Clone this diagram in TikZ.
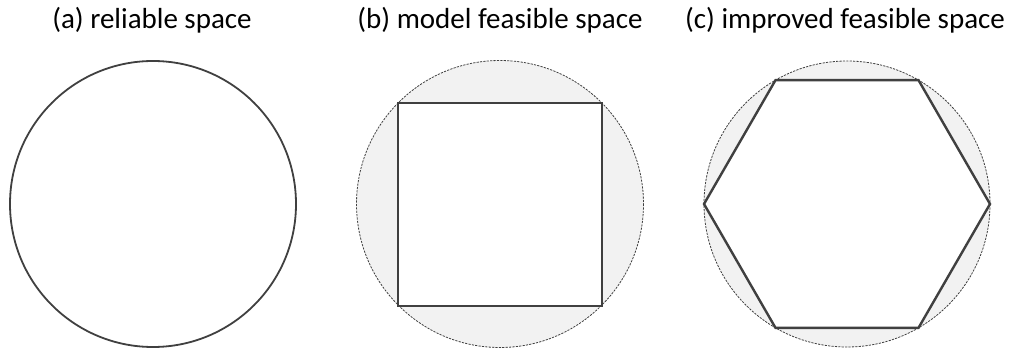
\documentclass[tikz,border=0pt]{standalone}
\usepackage{fontspec}
\setmainfont{Carlito}
\usepackage{tikz}
\usetikzlibrary{positioning}
\definecolor{cline}{HTML}{404040}
\definecolor{cshade}{HTML}{F2F2F2}

\begin{document}
\begin{tikzpicture}[x=1pt,y=-1pt,
  font=\fontsize{29}{32}\selectfont,
  title/.style={anchor=base},
  outer/.style={draw=cline,line width=0.8pt,dash pattern=on 2.2pt off 1.2pt,fill=cshade},
  inner/.style={draw=cline,line width=2.4pt,fill=white,line join=miter},
  plain/.style={draw=cline,line width=1.8pt}]
  \useasboundingbox (0,0) rectangle (1011,352);
  \coordinate (ca) at (153,204);
  \coordinate (cb) at (500,204);
  \coordinate (cc) at (847,204);
  % titles
  \node[title] (ta) at (152,29) {(a) reliable space};
  \node[title] (tb) at (500,29) {(b) model feasible space};
  \node[title] (tc) at (845,29) {(c) improved feasible space};
  % (a)
  \draw[plain] (ca) circle[radius=143];
  % (b)
  \draw[outer] (cb) circle[radius=143.5];
  \draw[inner] ([shift={(-102,-101)}]cb) rectangle ([shift={(102,102)}]cb);
  % (c)
  \draw[outer] (cc) circle[radius=143];
  \draw[inner] ([shift={(0:143)}]cc) \foreach \a in {60,120,...,300} {-- ([shift={(\a:143)}]cc)} -- cycle;
\end{tikzpicture}
\end{document}
